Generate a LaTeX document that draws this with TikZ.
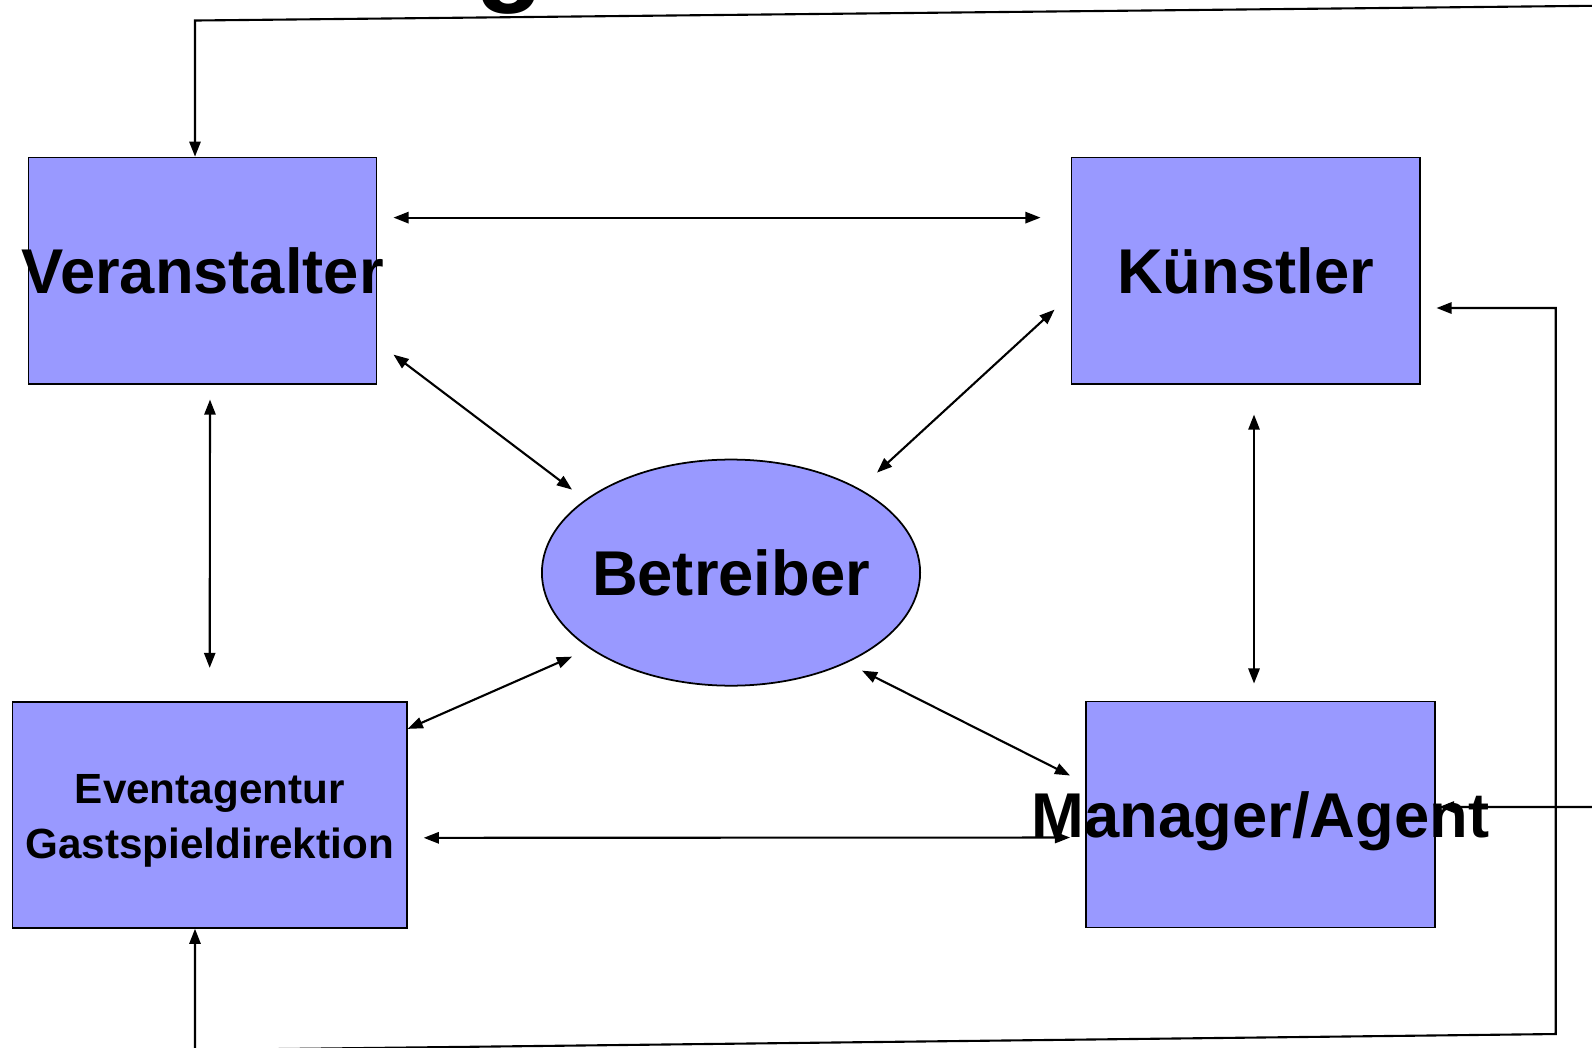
\documentclass[tikz,border=0pt]{standalone}
\usepackage{fontspec}
\setmainfont{Liberation Sans}
\usepackage{tikz}
\usetikzlibrary{shapes.geometric,arrows.meta,calc}
\definecolor{box blue}{rgb}{0.6, 0.6, 1}
% text that may run over the edge of its box
\newcommand{\overrun}[1]{\makebox[0pt]{#1}}

\begin{document}
\begin{tikzpicture}[x=0.01cm, y=-0.01cm,
		party/.style={draw=black, line width=0.5pt, fill=box blue, inner sep=0pt, text depth=0pt,
			font=\bfseries\fontsize{18}{21.6}\selectfont},
		party box/.style={party, rectangle, minimum width=3.48cm, minimum height=2.26cm},
		link/.style={line width=0.6pt,
			{Triangle[length=4.3pt,width=3.2pt]}-{Triangle[length=4.3pt,width=3.2pt]}}]
			\path[use as bounding box, clip] (0,0) rectangle (1592,1047);
			% what is left of the title
			\node[anchor=base, inner sep=0pt, font=\bfseries\fontsize{32}{38}\selectfont] (title) at (510,-9.7) {g};
			% the parties
			\node[party box] (ver) at (202.5,270.6) {\overrun{Veranstalter}};
			\node[party box] (kue) at (1245.5,270.6) {\overrun{Künstler}};
			\node[party box, minimum width=3.94cm, align=center,
				font=\bfseries\fontsize{12}{14.7}\selectfont] (evt) at (209.7,814.8)
				{\raisebox{-0.02cm}[\height][\depth]{\shortstack{Eventagentur\\[0.05cm]Gastspieldirektion}}};
			\node[party box, minimum width=3.49cm] (man) at (1260.5,814.5) {\overrun{Manager/Agent}};
			\node[party, ellipse, minimum width=3.78cm, minimum height=2.26cm] (bet) at (731,572.6) {\overrun{Betreiber}};
			% links between the parties
			\draw[link] ($(ver.east)+(16,-53)$) -- ($(kue.west)+(-30,-53)$);
			\draw[link] ($(ver.east)+(16,84)$) -- ($(bet.center)+(-159,-83)$);
			\draw[link] ($(kue.west)+(-16,39)$) -- ($(bet.center)+(146,-100)$);
			\draw[link] ($(ver.south)+(7.5,15)$) -- ($(evt.north)+(0,-33)$);
			\draw[link] ($(kue.south)+(8.5,30)$) -- ($(man.north)+(-6.5,-17)$);
			\draw[link] ($(evt.north east)+(0,28)$) -- ($(bet.center)+(-159,84)$);
			\draw[link] ($(bet.center)+(131,98)$) -- ($(man.west)+(-15,-39)$);
			\draw[link] ($(evt.east)+(16,23)$) -- ($(man.west)+(-15,23)$);
			% long way round, top
			\coordinate (top left) at (195,20.5);
			\coordinate (top right) at (1620,5.5);
			\draw[link] ($(ver.north)+(-7.5,0)$) -- (top left) -- (top right) |- ($(man.east)+(3,-7.5)$);
			% long way round, bottom
			\coordinate (bottom left) at (195,1050);
			\coordinate (bottom right) at (1555.7,1034);
			\draw[link] ($(evt.south)+(-14.7,0)$) -- (bottom left) -- (bottom right) |- ($(kue.east)+(16,37.4)$);
		\end{tikzpicture}
\end{document}
